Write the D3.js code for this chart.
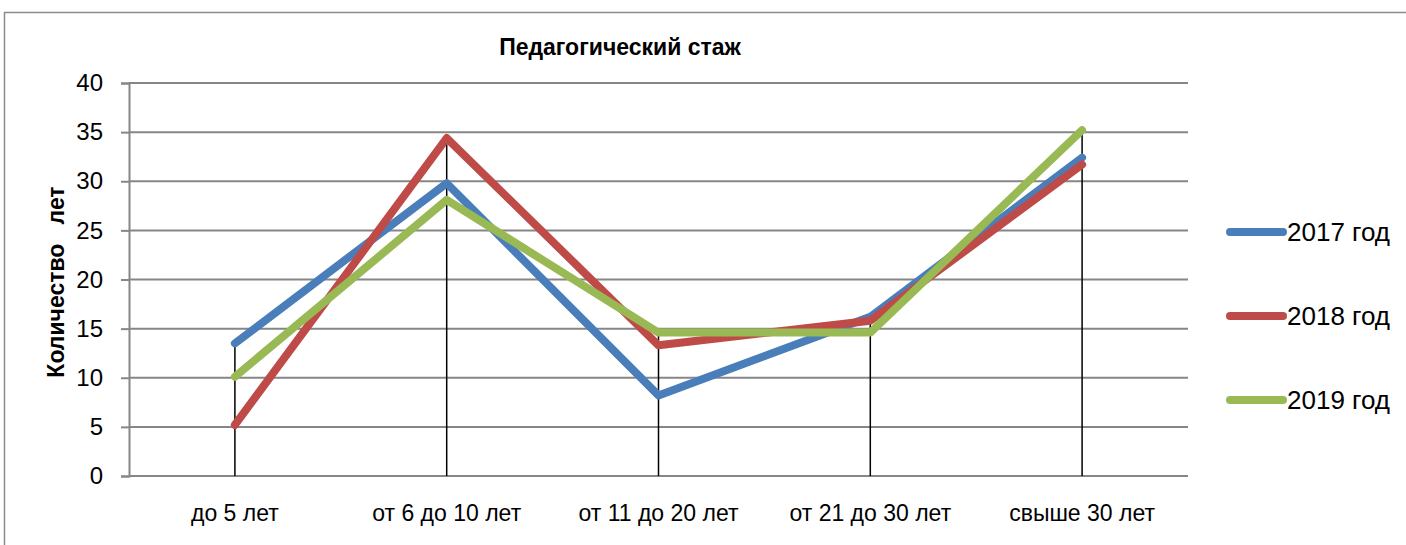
<!DOCTYPE html>
<html>
<head>
<meta charset="utf-8">
<script src="https://cdn.jsdelivr.net/npm/d3@7"></script>
<style>
  body { margin: 0; background: #fff; }
  svg text { font-family: "Liberation Sans", Arial, sans-serif; fill: #000; }
</style>
</head>
<body>
<div id="chart"></div>
<script>
// Chart data
const categories = ["до 5 лет", "от 6 до 10 лет", "от 11 до 20 лет", "от 21 до 30 лет", "свыше 30 лет"];
const seriesNames = ["2017 год", "2018 год", "2019 год"];
const values2017 = [13.5, 29.8, 8.2, 16.2, 32.4];
const values2018 = [5.2, 34.4, 13.3, 15.8, 31.7];
const values2019 = [10.1, 28.1, 14.6, 14.6, 35.2];
const yTicks = [0, 5, 10, 15, 20, 25, 30, 35, 40];
const colors = ["#4a7ebb", "#be4b48", "#98b954"];

const WIDTH = 1406;
const HEIGHT = 545;
const PLOT = { left: 129, right: 1188, top: 83, bottom: 476 };

const series = seriesNames.map((name, i) => ({
  name: name,
  values: [values2017, values2018, values2019][i],
  color: colors[i]
}));

const svg = d3.select("#chart")
  .append("svg")
  .attr("width", WIDTH)
  .attr("height", HEIGHT);

// Outer chart frame
svg.append("rect")
  .attr("x", 4.5)
  .attr("y", 12.5)
  .attr("width", 1460)
  .attr("height", 600)
  .attr("fill", "none")
  .attr("stroke", "#8c8c8c")
  .attr("stroke-width", 1.5);

const x = d3.scaleBand()
  .domain(categories)
  .range([PLOT.left, PLOT.right]);

const y = d3.scaleLinear()
  .domain([0, 40])
  .range([PLOT.bottom, PLOT.top]);

// Y axis with ticks
const yAxis = svg.append("g")
  .attr("transform", "translate(" + PLOT.left + ",0)")
  .call(d3.axisLeft(y).tickValues(yTicks).tickSize(8).tickPadding(18));
yAxis.select(".domain").attr("stroke", "#868686").attr("stroke-width", 2);
yAxis.selectAll(".tick line").attr("stroke", "#868686").attr("stroke-width", 2);
yAxis.selectAll("text")
  .style("font-size", "24px")
  .style("font-family", "Liberation Sans, Arial, sans-serif");

// Horizontal gridlines
svg.append("g")
  .selectAll("line")
  .data(yTicks)
  .enter()
  .append("line")
  .attr("x1", PLOT.left)
  .attr("x2", PLOT.right)
  .attr("y1", d => y(d))
  .attr("y2", d => y(d))
  .attr("stroke", "#868686")
  .attr("stroke-width", 2);

// X axis labels
svg.append("g")
  .selectAll("text")
  .data(categories)
  .enter()
  .append("text")
  .attr("x", d => x(d) + x.bandwidth() / 2)
  .attr("y", 521)
  .attr("text-anchor", "middle")
  .style("font-size", "23px")
  .text(d => d);

// Drop lines from the highest value to the axis
svg.append("g")
  .selectAll("line")
  .data(categories)
  .enter()
  .append("line")
  .attr("x1", d => x(d) + x.bandwidth() / 2)
  .attr("x2", d => x(d) + x.bandwidth() / 2)
  .attr("y1", (d, i) => y(d3.max(series, s => s.values[i])))
  .attr("y2", y(0))
  .attr("stroke", "#000")
  .attr("stroke-width", 1.5);

// Lines
const line = d3.line()
  .x((d, i) => x(categories[i]) + x.bandwidth() / 2)
  .y(d => y(d));

svg.append("g")
  .selectAll("path")
  .data(series)
  .enter()
  .append("path")
  .attr("d", d => line(d.values))
  .attr("fill", "none")
  .attr("stroke", d => d.color)
  .attr("stroke-width", 8)
  .attr("stroke-linecap", "round")
  .attr("stroke-linejoin", "round");

// Title
svg.append("text")
  .attr("x", 620)
  .attr("y", 55)
  .attr("text-anchor", "middle")
  .style("font-size", "23px")
  .style("font-weight", "bold")
  .text("Педагогический стаж");

// Y axis title
svg.append("text")
  .attr("transform", "translate(64,282) rotate(-90)")
  .attr("text-anchor", "middle")
  .style("font-size", "23px")
  .style("font-weight", "bold")
  .style("white-space", "pre")
  .text("Количество   лет");

// Legend
const legend = svg.append("g")
  .selectAll("g")
  .data(series)
  .enter()
  .append("g")
  .attr("transform", (d, i) => "translate(0," + (232 + i * 84) + ")");

legend.append("line")
  .attr("x1", 1230)
  .attr("x2", 1283)
  .attr("stroke", d => d.color)
  .attr("stroke-width", 8)
  .attr("stroke-linecap", "round");

legend.append("text")
  .attr("x", 1287)
  .attr("y", 9)
  .style("font-size", "26px")
  .text(d => d.name);
</script>
</body>
</html>
